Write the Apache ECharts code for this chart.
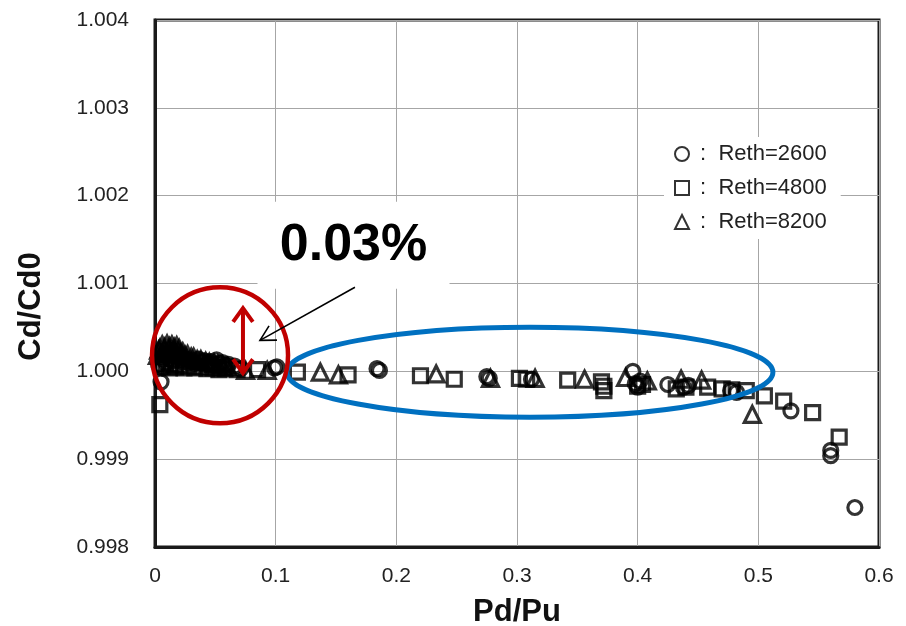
<!DOCTYPE html>
<html>
<head>
<meta charset="utf-8">
<title>Cd/Cd0 vs Pd/Pu</title>
<script src="https://cdn.jsdelivr.net/npm/echarts@6/dist/echarts.min.js"></script>
<style>
  html, body { margin: 0; padding: 0; background: #fff; }
  #chart { width: 906px; height: 626px; }
</style>
</head>
<body>
<div id="chart"></div>
<script>
// Tick labels
const xTickLabels = ['0', '0.1', '0.2', '0.3', '0.4', '0.5', '0.6'];
const yTickLabels = ['0.998', '0.999', '1.000', '1.001', '1.002', '1.003', '1.004'];

// Series names
const seriesNames = ['Reth=2600', 'Reth=4800', 'Reth=8200'];

// Reth=2600 : [Pd/Pu, Cd/Cd0]
const reth2600 = [
  [0.003, 1.00008], [0.005, 0.99988], [0.006, 1.00004], [0.007, 1.00014], [0.009, 1.00010],
  [0.010, 1.00018], [0.012, 1.00014], [0.013, 1.00021], [0.015, 1.00012], [0.017, 1.00018],
  [0.019, 1.00013], [0.021, 1.00016], [0.023, 1.00011], [0.026, 1.00014], [0.028, 1.00010],
  [0.031, 1.00012], [0.033, 1.00009], [0.036, 1.00014], [0.038, 1.00010], [0.041, 1.00012],
  [0.043, 1.00009], [0.046, 1.00011], [0.048, 1.00008], [0.051, 1.00013], [0.053, 1.00009],
  [0.056, 1.00010], [0.058, 1.00007], [0.061, 1.00008], [0.066, 1.00006], [0.071, 1.00003],
  [0.099, 1.00004], [0.101, 1.00005], [0.184, 1.00003], [0.186, 1.00001], [0.275, 0.99994],
  [0.277, 0.99992], [0.312, 0.99991], [0.396, 1.00000], [0.398, 0.99986], [0.400, 0.99982],
  [0.402, 0.99989], [0.425, 0.99985], [0.438, 0.99982], [0.442, 0.99984], [0.477, 0.99978],
  [0.482, 0.99976], [0.527, 0.99955], [0.560, 0.99910], [0.560, 0.99904], [0.580, 0.99845]
];

// Reth=4800
const reth4800 = [
  [0.004, 0.99962], [0.006, 1.00006], [0.009, 1.00009], [0.012, 1.00004], [0.014, 1.00008],
  [0.017, 1.00005], [0.020, 1.00007], [0.024, 1.00004], [0.028, 1.00006], [0.033, 1.00004],
  [0.038, 1.00005], [0.043, 1.00003], [0.048, 1.00004], [0.053, 1.00002], [0.058, 1.00003],
  [0.068, 1.00002], [0.085, 1.00002], [0.118, 0.99999], [0.160, 0.99996], [0.220, 0.99995],
  [0.248, 0.99991], [0.302, 0.99992], [0.308, 0.99991], [0.342, 0.99990], [0.370, 0.99988],
  [0.372, 0.99983], [0.372, 0.99978], [0.400, 0.99983], [0.404, 0.99985], [0.432, 0.99980],
  [0.440, 0.99982], [0.458, 0.99982], [0.470, 0.99980], [0.478, 0.99979], [0.490, 0.99978],
  [0.505, 0.99972], [0.521, 0.99966], [0.545, 0.99953], [0.567, 0.99925]
];

// Reth=8200
const reth8200 = [
  [0.002, 1.00018], [0.003, 1.00024], [0.004, 1.00026], [0.005, 1.00020], [0.006, 1.00030],
  [0.007, 1.00023], [0.008, 1.00027], [0.009, 1.00021], [0.010, 1.00031], [0.011, 1.00024],
  [0.012, 1.00028], [0.013, 1.00022], [0.014, 1.00030], [0.015, 1.00023], [0.016, 1.00027],
  [0.017, 1.00021], [0.018, 1.00029], [0.019, 1.00022], [0.020, 1.00026], [0.021, 1.00020],
  [0.023, 1.00022], [0.025, 1.00018], [0.027, 1.00019], [0.030, 1.00016], [0.032, 1.00016],
  [0.035, 1.00013], [0.038, 1.00013], [0.042, 1.00011], [0.045, 1.00010], [0.049, 1.00009],
  [0.052, 1.00008], [0.056, 1.00006], [0.060, 1.00005], [0.075, 1.00001], [0.093, 1.00001],
  [0.137, 0.99999], [0.152, 0.99996], [0.233, 0.99997], [0.278, 0.99992], [0.315, 0.99992],
  [0.356, 0.99991], [0.390, 0.99993], [0.408, 0.99989], [0.436, 0.99991], [0.453, 0.99990],
  [0.495, 0.99951]
];

// Annotation anchors in data units
const noteText = '0.03%';
const noteCenter = [0.1645, 1.00143];
const arrowFrom = [0.1657, 1.000957];
const arrowTip = [0.0870, 1.000353];
const spanTop = [0.0729, 1.00072];
const spanBottom = [0.0729, 0.99998];
const redRingCenter = [0.0539, 1.000182];
const blueRingCenter = [0.3107, 0.99999];

const FONT = '"Liberation Sans", Arial, Helvetica, sans-serif';

const chart = echarts.init(document.getElementById('chart'), null, { renderer: 'canvas' });

const markStyle = { color: 'rgba(0,0,0,0)', borderColor: '#000', borderWidth: 3.2 };

chart.setOption({
  animation: false,
  backgroundColor: '#fff',
  grid: {
    left: 155, right: 27, top: 20, bottom: 79,
    outerBoundsMode: 'none', containLabel: false,
    show: true, borderColor: '#1a1a1a', borderWidth: 3, backgroundColor: 'transparent'
  },
  xAxis: {
    type: 'value', min: 0, max: 0.6, interval: 0.1,
    name: 'Pd/Pu', nameLocation: 'middle', nameGap: 50,
    nameTextStyle: { fontFamily: FONT, fontSize: 31, fontWeight: 'bold', color: '#111' },
    axisLine: { show: true, lineStyle: { color: '#1a1a1a', width: 3 } },
    axisTick: { show: false },
    axisLabel: {
      margin: 19, fontFamily: FONT, fontSize: 21, color: '#222',
      formatter: (v, i) => xTickLabels[i]
    },
    splitLine: { show: true, lineStyle: { color: '#a6a6a6', width: 1 } }
  },
  yAxis: {
    type: 'value', min: 0.998, max: 1.004, interval: 0.001,
    name: 'Cd/Cd0', nameLocation: 'middle', nameGap: 108, nameRotate: 90,
    nameTextStyle: { fontFamily: FONT, fontSize: 31, fontWeight: 'bold', color: '#111', padding: [0, 46, 0, 0] },
    axisLine: { show: true, lineStyle: { color: '#1a1a1a', width: 3 } },
    axisTick: { show: false },
    axisLabel: {
      margin: 26, fontFamily: FONT, fontSize: 21, color: '#222',
      formatter: (v, i) => yTickLabels[i]
    },
    splitLine: { show: true, lineStyle: { color: '#a6a6a6', width: 1 } }
  },
  legend: {
    orient: 'vertical', left: 664, top: 137,
    backgroundColor: '#fff', padding: [6, 14, 6, 10],
    itemWidth: 14, itemHeight: 14, itemGap: 12,
    data: seriesNames,
    formatter: name => ' :  ' + name,
    textStyle: { fontFamily: FONT, fontSize: 22, color: '#222' },
    itemStyle: { borderWidth: 2 }
  },
  series: [
    { name: seriesNames[0], type: 'scatter', symbol: 'circle', symbolSize: 14, data: reth2600, itemStyle: markStyle },
    { name: seriesNames[1], type: 'scatter', symbol: 'rect', symbolSize: 14, data: reth4800, itemStyle: markStyle },
    { name: seriesNames[2], type: 'scatter', symbol: 'triangle', symbolSize: 16, data: reth8200, itemStyle: markStyle }
  ]
});

// Annotations placed from data anchors
function px(p) { return chart.convertToPixel({ gridIndex: 0 }, p); }

function chevron(tip, dir, len, spread) {
  // open arrow head at tip, dir points along the shaft toward the tip
  const a = Math.atan2(dir[1], dir[0]);
  const p1 = [tip[0] - len * Math.cos(a - spread), tip[1] - len * Math.sin(a - spread)];
  const p2 = [tip[0] - len * Math.cos(a + spread), tip[1] - len * Math.sin(a + spread)];
  return [p1, tip, p2];
}

const c = px(noteCenter);
const af = px(arrowFrom);
const at = px(arrowTip);
const st = px(spanTop);
const sb = px(spanBottom);
const rc = px(redRingCenter);
const bc = px(blueRingCenter);

const red = '#c00000';
const blue = '#0070c0';

chart.setOption({
  graphic: [
    { type: 'rect', z: 100, shape: { x: c[0] - 96, y: c[1] - 44, width: 192, height: 87 }, style: { fill: '#fff' } },
    { type: 'text', z: 101, x: c[0], y: c[1],
      style: { text: noteText, fill: '#000', font: 'bold 52px ' + FONT, align: 'center', verticalAlign: 'middle' } },
    { type: 'ellipse', z: 102, shape: { cx: bc[0], cy: bc[1], rx: 243, ry: 45 },
      style: { fill: 'none', stroke: blue, lineWidth: 5 } },
    { type: 'circle', z: 103, shape: { cx: rc[0], cy: rc[1], r: 68 },
      style: { fill: 'none', stroke: red, lineWidth: 4.5 } },
    { type: 'polyline', z: 104, shape: { points: [[st[0], st[1] + 2], [sb[0], sb[1] - 2]] },
      style: { stroke: red, lineWidth: 4, fill: 'none' } },
    { type: 'polyline', z: 104, shape: { points: chevron([st[0], st[1]], [0, -1], 17, 0.62) },
      style: { stroke: red, lineWidth: 4, fill: 'none', lineJoin: 'miter' } },
    { type: 'polyline', z: 104, shape: { points: chevron([sb[0], sb[1]], [0, 1], 17, 0.62) },
      style: { stroke: red, lineWidth: 4, fill: 'none', lineJoin: 'miter' } },
    { type: 'polyline', z: 105, shape: { points: [af, at] },
      style: { stroke: '#000', lineWidth: 1.6, fill: 'none' } },
    { type: 'polyline', z: 105, shape: { points: chevron(at, [at[0] - af[0], at[1] - af[1]], 17, 0.5) },
      style: { stroke: '#000', lineWidth: 1.6, fill: 'none' } }
  ]
});
</script>
</body>
</html>
